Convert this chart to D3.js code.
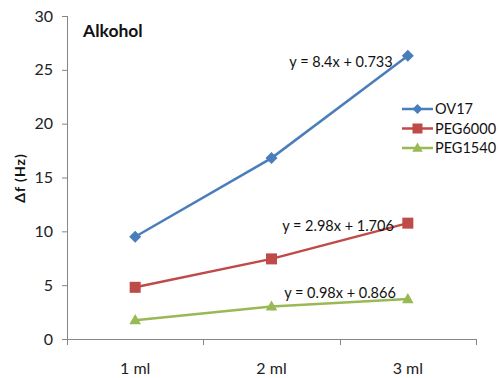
<!DOCTYPE html>
<html><head><meta charset="utf-8">
<script src="https://cdn.jsdelivr.net/npm/d3@7"></script>
<style>body{margin:0;background:#fff}svg{display:block}</style>
</head><body>
<script>
const categories = ["1 ml", "2 ml", "3 ml"];
const seriesNames = ["OV17", "PEG6000", "PEG1540"];
const ov17 = [9.5, 16.8, 26.3];
const peg6000 = [4.8, 7.44, 10.76];
const peg1540 = [1.75, 3.02, 3.71];
const equations = ["y = 8.4x + 0.733", "y = 2.98x + 1.706", "y = 0.98x + 0.866"];
const yTicks = [0, 5, 10, 15, 20, 25, 30];

const W = 499, H = 378;
const font = "Lato, Carlito, Calibri, sans-serif";
const svg = d3.select("body").append("svg").attr("width", W).attr("height", H);
const colors = ["#4A7EBB", "#BE4B48", "#98B954"];
const data = [ov17, peg6000, peg1540];

const x = d3.scaleBand().domain(categories).range([67, 476]);
const y = d3.scaleLinear().domain([0, 30]).range([339, 16]);

const axisColor = "#868686";
// y axis
const ya = svg.append("g").attr("transform", "translate(67,0)")
  .call(d3.axisLeft(y).tickValues(yTicks).tickSize(5).tickPadding(9));
ya.select(".domain").attr("stroke", axisColor).attr("d", `M0.5,${y(30)}V${y(0)}`);
ya.selectAll(".tick line").attr("stroke", axisColor);
ya.selectAll(".tick text").attr("font-family", font).attr("font-size", 16).attr("fill", "#222");
// x axis
const xa = svg.append("g").attr("transform", "translate(0,339)")
  .call(d3.axisBottom(x).tickSize(0).tickPadding(24));
xa.select(".domain").attr("stroke", axisColor).attr("d", `M67,0.5H476`);
xa.selectAll(".tick text").attr("font-family", font).attr("font-size", 16).attr("fill", "#222");
// x ticks at band boundaries
const bounds = categories.map(c => x(c)).concat([x(categories[2]) + x.bandwidth()]);
svg.append("g").selectAll("line").data(bounds).join("line")
  .attr("x1", d => Math.round(d) + 0.5).attr("x2", d => Math.round(d) + 0.5)
  .attr("y1", 339).attr("y2", 345).attr("stroke", axisColor);

const cx = c => x(c) + x.bandwidth() / 2;

function marker(g, i, px, py, s) {
  if (i === 0) {
    g.append("path").attr("d", `M${px},${py-s}L${px+s},${py}L${px},${py+s}L${px-s},${py}Z`).attr("fill", colors[0]);
  } else if (i === 1) {
    g.append("rect").attr("x", px - s).attr("y", py - s).attr("width", 2*s).attr("height", 2*s).attr("fill", colors[1]);
  } else {
    g.append("path").attr("d", `M${px},${py-s*1.1}L${px+s*1.05},${py+s*0.75}L${px-s*1.05},${py+s*0.75}Z`).attr("fill", colors[2]);
  }
}

const line = d3.line().x((d, i) => cx(categories[i])).y(d => y(d));
data.forEach((vals, i) => {
  const g = svg.append("g");
  g.append("path").attr("d", line(vals)).attr("fill", "none").attr("stroke", colors[i]).attr("stroke-width", 2.5);
  vals.forEach((v, j) => marker(g, i, cx(categories[j]), y(v), i === 0 ? 6 : 5.5));
});

// equations
const eqPos = [[341, 62], [338, 226], [340, 293]];
equations.forEach((t, i) => {
  svg.append("text").attr("x", eqPos[i][0]).attr("y", eqPos[i][1]).attr("dy", "0.35em")
    .attr("text-anchor", "middle").attr("font-family", font).attr("font-size", 14.5).attr("fill", "#111").text(t);
});

// title
svg.append("text").attr("x", 83).attr("y", 37).attr("font-family", font).attr("font-size", 17.5)
  .attr("font-weight", "bold").attr("fill", "#111").text("Alkohol");

// y label
svg.append("text").attr("transform", "translate(25,178) rotate(-90)").attr("text-anchor", "middle")
  .attr("font-family", font).attr("font-size", 14).attr("font-weight", "bold").attr("letter-spacing", 1)
  .attr("fill", "#111").text("Δf (Hz)");

// legend
const lg = svg.append("g");
seriesNames.forEach((n, i) => {
  const ly = 109 + i * 19.5;
  lg.append("line").attr("x1", 402).attr("x2", 433).attr("y1", ly).attr("y2", ly).attr("stroke", colors[i]).attr("stroke-width", 2.5);
  marker(lg, i, 417.5, ly, 5);
  lg.append("text").attr("x", 435).attr("y", ly).attr("dy", "0.35em").attr("font-family", font)
    .attr("font-size", 14.5).attr("fill", "#111").text(n);
});
</script>
</body></html>
